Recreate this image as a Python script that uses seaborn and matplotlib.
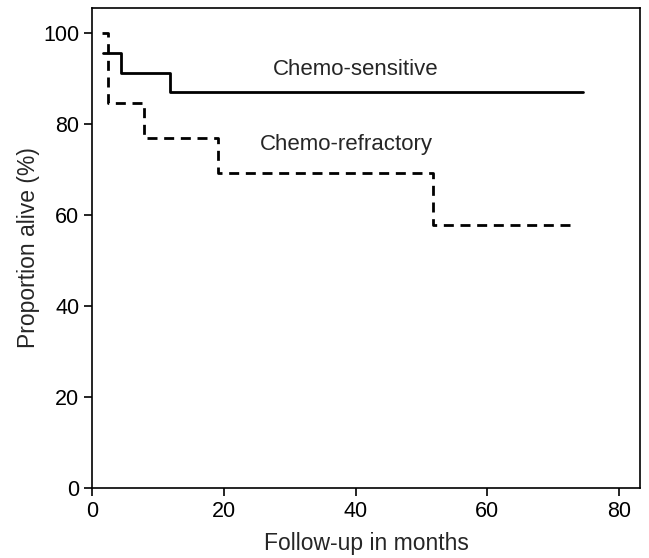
import pandas as pd
import seaborn as sns
import matplotlib.pyplot as plt

# Kaplan-Meier steps
sens_months = [1.6, 4.4, 11.8, 74.5]
sens_alive = [95.7, 91.3, 87.0, 87.0]
refr_months = [1.5, 2.4, 7.8, 19.1, 51.8, 72.8]
refr_alive = [100.0, 84.6, 76.9, 69.2, 57.7, 57.7]

x_ticks = [0, 20, 40, 60, 80]
y_ticks = [0, 20, 40, 60, 80, 100]

sns.set_style("ticks")
plt.rcParams["font.family"] = ["Liberation Sans", "DejaVu Sans"]

sens = pd.DataFrame({"Meses": sens_months, "Vivos": sens_alive})
refr = pd.DataFrame({"Meses": refr_months, "Vivos": refr_alive})

f = plt.figure(figsize=(6.49, 5.58), dpi=100)
ax = f.add_axes([0.1425, 0.1254, 0.8435, 0.8603])

sns.lineplot(x="Meses", y="Vivos", data=sens, ax=ax, color="black",
             linewidth=2.0, drawstyle="steps-post", estimator=None)
sns.lineplot(x="Meses", y="Vivos", data=refr, ax=ax, color="black",
             linewidth=2.0, drawstyle="steps-post", estimator=None,
             linestyle=(0, (3.6, 2.4)))

ax.text(40, 91.9, "Chemo-sensitive", ha="center", va="center", fontsize=16)
ax.text(38.6, 75.4, "Chemo-refractory", ha="center", va="center", fontsize=16)

ax.set_xlim(0, 83.2)
ax.set_ylim(0, 105.5)
ax.set_xticks(x_ticks)
ax.set_yticks(y_ticks)
ax.tick_params(direction="out", length=6, width=1.2, labelsize=15.5, colors="black")
for s in ax.spines.values():
    s.set_linewidth(1.2)
    s.set_color("black")
ax.set_xlabel("Follow-up in months", fontsize=16.5, labelpad=7)
ax.set_ylabel("Proportion alive (%)", fontsize=16.5, labelpad=2)

plt.savefig("out.png", dpi=100)
